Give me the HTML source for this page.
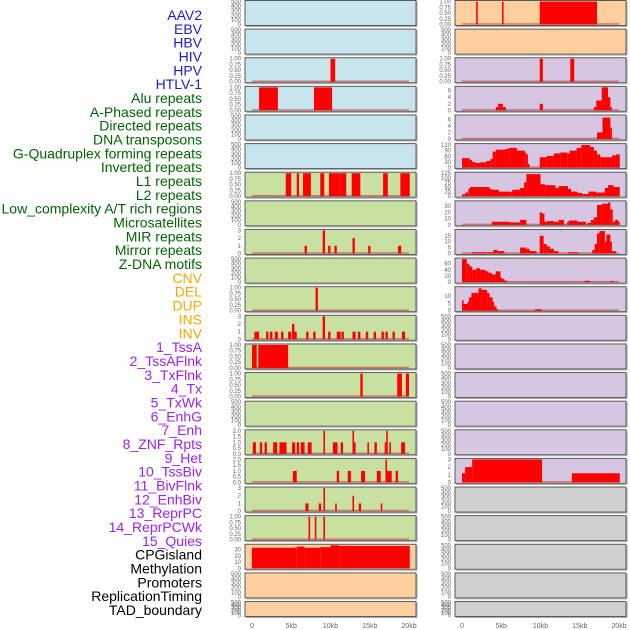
<!DOCTYPE html>
<html><head><meta charset="utf-8"><style>
html,body{margin:0;padding:0;background:#fff;}
svg{display:block;font-family:"Liberation Sans",sans-serif;}
</style></head><body>
<svg id="chart" width="630" height="630" viewBox="0 0 630 630" xmlns="http://www.w3.org/2000/svg"></svg>
<script>
// ---- data ----
const trackLabels = ["AAV2","EBV","HBV","HIV","HPV","HTLV-1","Alu repeats","A-Phased repeats","Directed repeats","DNA transposons","G-Quadruplex forming repeats","Inverted repeats","L1 repeats","L2 repeats","Low_complexity A/T rich regions","Microsatellites","MIR repeats","Mirror repeats","Z-DNA motifs","CNV","DEL","DUP","INS","INV","1_TssA","2_TssAFlnk","3_TxFlnk","4_Tx","5_TxWk","6_EnhG","7_Enh","8_ZNF_Rpts","9_Het","10_TssBiv","11_BivFlnk","12_EnhBiv","13_ReprPC","14_ReprPCWk","15_Quies","CPGisland","Methylation","Promoters","ReplicationTiming","TAD_boundary"];
const labelGroups = ["v","v","v","v","v","v","r","r","r","r","r","r","r","r","r","r","r","r","r","c","c","c","c","c","s","s","s","s","s","s","s","s","s","s","s","s","s","s","s","k","k","k","k","k"];
const xTickValues = [0,5,10,15,20];
const xTickLabels = ["0","5kb","10kb","15kb","20kb"];
const leftBg = ["b","b","b","b","b","b","g","g","g","g","g","g","g","g","g","g","g","g","g","o","o","o"];
const rightBg = ["o","o","p","p","p","p","p","p","p","p","p","p","p","p","p","p","p","n","n","n","n","n"];
const leftMax = [500,500,1,1,500,500,1,500,3,500,1,3,1,1,500,2,2,3,1,37,500,500];
const rightMax = [1,500,1,7,7,122,125,37,19.5,75,15.5,500,500,500,500,500,3,500,500,500,500,500];
const leftTicks = ["T500","T500","T1","T1","T500","T500","T1","T500","T3","T500","T1","T3","T1","T1","T500","T2","T2","T3","T1","CPG","T500","T500"];
const rightTicks = ["T1","T500","T1","T6","T6","G","L1","M30","M15","D60","D10","T500","T500","T500","T500","T500","T3","T500","T500","T500","T500","T500"];
const tickSets = {
 T500:["0","100","200","300","400","500"],
 T1:["0.00","0.25","0.50","0.75","1.00"],
 T3:["0","1","2","3"],
 T2:["0.0","0.5","1.0","1.5","2.0"],
 T6:["0","2","4","6"],
 G:["0","30","60","90","120"],
 L1:["0","25","50","75","100","125"],
 M30:["0","10","20","30"],
 M15:["0","5","10","15"],
 D60:["0","20","40","60"],
 D10:["0","5","10"],
 CPG:["0","10","20","30"]
};
// segments: [startKb, endKb, value]
const leftSegs = [
 [],[],
 [[10.0,10.6,1]],
 [[0.9,3.3,1],[7.9,10.2,1]],
 [],[],
 [[4.3,5.0,1],[5.7,6.0,1],[6.5,7.5,1],[8.7,9.2,1],[9.8,11.1,1],[11.1,12.0,1],[12.7,13.8,1],[16.7,17.3,1],[18.9,20.1,1]],
 [],
 [[6.7,7.0,1],[9.0,9.3,3],[9.7,10.0,1],[10.5,10.8,1],[12.8,13.1,2],[14.8,15.1,1],[18.6,19.0,1]],
 [],
 [[8.1,8.4,1]],
 [[0.3,0.9,1],[1.8,2.1,1],[2.3,2.6,1],[2.9,3.3,1],[3.7,4.0,1],[4.6,5.0,1],[5.1,5.4,2],[5.4,5.7,1],[6.9,7.2,1],[7.8,8.1,1],[9.0,9.3,3],[9.7,10.0,1],[10.8,11.3,1],[11.4,11.7,1],[12.8,13.2,1],[13.5,13.8,1],[14.5,14.8,1],[15.5,15.8,1],[16.5,16.8,1],[17.0,17.3,1],[17.9,18.2,1],[19.1,19.5,1]],
 [[0.0,0.6,1],[0.8,4.6,1]],
 [[13.8,14.1,1],[18.5,19.1,1],[19.6,20.0,1]],
 [],
 [[0.1,0.5,1],[1.0,1.3,1],[1.6,1.9,1],[2.7,3.2,1],[3.5,4.4,1],[5.1,5.5,1],[5.7,6.0,1],[6.2,6.7,1],[7.1,7.6,1],[9.1,9.3,2],[10.3,10.9,1],[11.3,11.6,1],[12.8,13.0,2],[13.0,13.2,1],[14.7,14.9,1],[15.6,15.9,1],[16.9,17.1,1],[17.1,17.3,2],[17.5,17.7,1],[19.0,19.5,1]],
 [[5.2,5.7,1],[10.8,11.1,1],[12.2,12.6,1],[13.9,14.4,1],[15.9,16.4,1],[17.0,17.2,2],[17.2,17.8,1],[18.3,18.6,1]],
 [[6.8,7.2,1],[8.5,8.8,1],[9.1,9.3,3],[10.6,10.8,1],[12.8,13.0,2],[13.6,13.9,1],[16.4,16.6,1]],
 [[7.2,7.4,1],[8.0,8.2,1],[9.1,9.3,1]],
 [[0,5.7,33],[5.7,6.7,35],[6.7,8.7,33],[8.7,10.0,34],[10.0,11.1,37],[11.1,20.1,36]],
 [],[]
];
const rightSegs = [
 [[1.8,2.0,1],[5.1,5.3,1],[9.9,17.2,1]],
 [],
 [[9.9,10.3,1],[13.8,14.3,1]],
 [[4.3,4.6,1],[4.6,5.2,2],[5.2,5.6,1],[9.9,10.3,2],[16.8,17.1,1],[17.1,17.8,3],[17.8,18.6,7],[18.6,18.9,4],[18.9,19.1,1]],
 [[17.2,17.9,2],[17.9,18.9,6.5],[18.9,19.1,3.5]],
 [[0,1.0,50],[1.0,1.3,40],[1.3,1.7,30],[1.7,2.3,25],[2.3,3.1,28],[3.1,3.6,35],[3.6,3.9,45],[3.9,4.3,85],[4.3,5.6,95],[5.6,6.0,100],[6.0,7.0,105],[7.0,8.0,90],[8.0,8.2,80],[8.2,8.4,70],[8.4,8.6,20],[9.9,10.8,55],[10.8,11.7,62],[11.7,12.5,75],[12.5,13.4,80],[13.4,13.7,75],[13.7,14.6,90],[14.6,15.2,105],[15.2,16.3,120],[16.3,16.8,110],[16.8,17.2,90],[17.2,17.6,70],[17.6,19.1,55],[19.1,19.6,65],[19.6,20.1,70]],
 [[0,0.4,10],[0.4,0.8,20],[0.8,1.0,40],[1.0,3.5,50],[3.5,3.8,40],[3.8,4.7,35],[4.7,6.2,25],[6.2,6.4,22],[6.4,7.4,35],[7.4,7.9,45],[7.9,8.2,75],[8.2,10.0,120],[10.0,10.6,65],[10.6,11.9,60],[11.9,12.3,45],[12.3,13.5,55],[13.5,13.9,40],[13.9,14.7,25],[14.7,15.3,18],[15.3,16.1,12],[16.1,17.1,25],[17.1,18.2,20],[18.2,18.6,45],[18.6,19.3,60],[19.3,20.1,50]],
 [[3.8,6.1,5],[6.1,7.4,4],[7.4,8.2,8],[9.9,10.2,20],[10.2,10.5,18],[10.5,10.8,5],[10.8,11.7,6],[11.7,12.3,5],[12.3,13.0,8],[13.4,13.6,5],[13.6,14.7,7],[14.7,15.8,5],[16.0,16.4,3],[16.4,16.8,8],[16.8,17.2,12],[17.2,17.8,32],[17.8,18.6,34],[18.6,18.9,36],[18.9,19.2,25],[19.2,19.5,5],[19.5,19.9,8],[19.9,20.1,5]],
 [[1.3,3.2,1],[3.3,4.0,1],[4.0,4.5,3],[4.5,5.4,2],[7.4,8.2,5],[8.2,8.6,4],[8.6,9.5,2],[9.9,10.4,15],[10.4,10.8,8],[10.8,11.2,6],[11.2,11.7,4],[11.7,12.3,2],[13.5,14.8,1],[16.6,16.9,3],[16.9,17.2,8],[17.2,17.5,17],[17.5,18.2,19],[18.2,18.4,10],[18.4,18.9,16],[18.9,19.1,10],[19.1,19.6,2]],
 [[0,0.6,75],[0.6,0.9,60],[0.9,1.0,55],[1.0,1.3,50],[1.3,1.8,40],[1.8,2.3,45],[2.3,3.0,40],[3.0,3.4,35],[3.4,3.8,30],[3.8,4.3,25],[4.3,4.9,35],[4.9,5.1,15],[5.1,5.4,10],[5.4,5.7,5],[15.6,16.3,4],[19.0,19.3,4]],
 [[0,0.2,7],[0.2,0.7,4.5],[0.7,0.9,6],[0.9,1.2,9],[1.2,2.1,12],[2.1,2.5,15],[2.5,3.2,14],[3.2,3.5,12],[3.5,3.9,9],[3.9,4.1,6],[4.1,4.4,3],[4.4,4.6,1],[9.3,10.2,1]],
 [],[],[],[],[],
 [[0,0.4,1.2],[0.4,1.3,2],[1.3,10.2,3],[14.0,20.1,1.2]],
 [],[],[],[],[]
];

// ---- drawing ----
const NS = "http://www.w3.org/2000/svg";
const svg = document.getElementById("chart");
const bgColors = {b:"#c8e4ec",g:"#c8e0a2",o:"#ffd09e",p:"#d6c6e2",n:"#d0d0d0"};
const labelColors = {v:"#1a1adc",r:"#006400",c:"#ffa500",s:"#a020f0",k:"#000000"};
function mk(tag, attrs){ const e=document.createElementNS(NS,tag); for(const k in attrs) e.setAttribute(k,attrs[k]); svg.appendChild(e); return e; }

// labels
const labelPitch = (610-15)/(trackLabels.length-1);
trackLabels.forEach((t,i)=>{
  const e = mk("text",{x:202,y:15+i*labelPitch+5,"text-anchor":"end","font-size":"14",fill:labelColors[labelGroups[i]]});
  e.textContent = t;
  
  
});

function xScale(panelX0, kb){ return panelX0 + 7 + kb*7.85; }

function drawPanel(row, side){
  const top = row*28.62 + 0.5;
  const h = row===21 ? 15 : 25;
  const x0 = side==="L" ? 245 : 455;
  const w = 171;
  const bg = side==="L" ? leftBg[row] : rightBg[row];
  const ymax = side==="L" ? leftMax[row] : rightMax[row];
  const ticks = tickSets[side==="L" ? leftTicks[row] : rightTicks[row]];
  const segs = side==="L" ? leftSegs[row] : rightSegs[row];
  const yTop = top+1, yBot = top+h-1;
  const yS = v => yBot - (v/ymax)*(yBot-yTop);
  const r = mk("rect",{x:x0,y:top,width:w,height:h,fill:bgColors[bg],stroke:"#5a5a5a","stroke-width":1});
  
  
  mk("line",{x1:x0+w+1,y1:top+1,x2:x0+w+1,y2:top+h+1,stroke:"#aaa","stroke-width":1});
  mk("line",{x1:x0+1,y1:top+h+1,x2:x0+w+1,y2:top+h+1,stroke:"#aaa","stroke-width":1});
  ticks.forEach(t=>{
    const v = parseFloat(t);
    const te = mk("text",{x:x0-4,y:yS(v)+2,"text-anchor":"end","font-size":"6",fill:"#666"});
    te.textContent = t;
    
    
  });
  if(segs.length){
    const bl = mk("line",{x1:xScale(x0,0),x2:xScale(x0,20),y1:yBot-0.5,y2:yBot-0.5,stroke:"rgba(200,40,40,0.55)","stroke-width":1.5});
    
    
  }
  segs.forEach(s=>{
    const xa = xScale(x0,s[0]), xb = xScale(x0,s[1]);
    const y = yS(s[2]);
    const b = mk("rect",{x:xa,y:y,width:Math.max(1.2,xb-xa),height:yBot-y,fill:"#ff0000"});
    
    
  });
}
for(let r=0;r<22;r++){ drawPanel(r,"L"); drawPanel(r,"R"); }

["L","R"].forEach(side=>{
  const x0 = side==="L"?245:455;
  xTickValues.forEach((v,i)=>{
    const te = mk("text",{x:xScale(x0,v),y:628,"text-anchor":"middle","font-size":"7",fill:"#666"});
    te.textContent = xTickLabels[i];
    
    
  });
});
</script>
</body></html>
